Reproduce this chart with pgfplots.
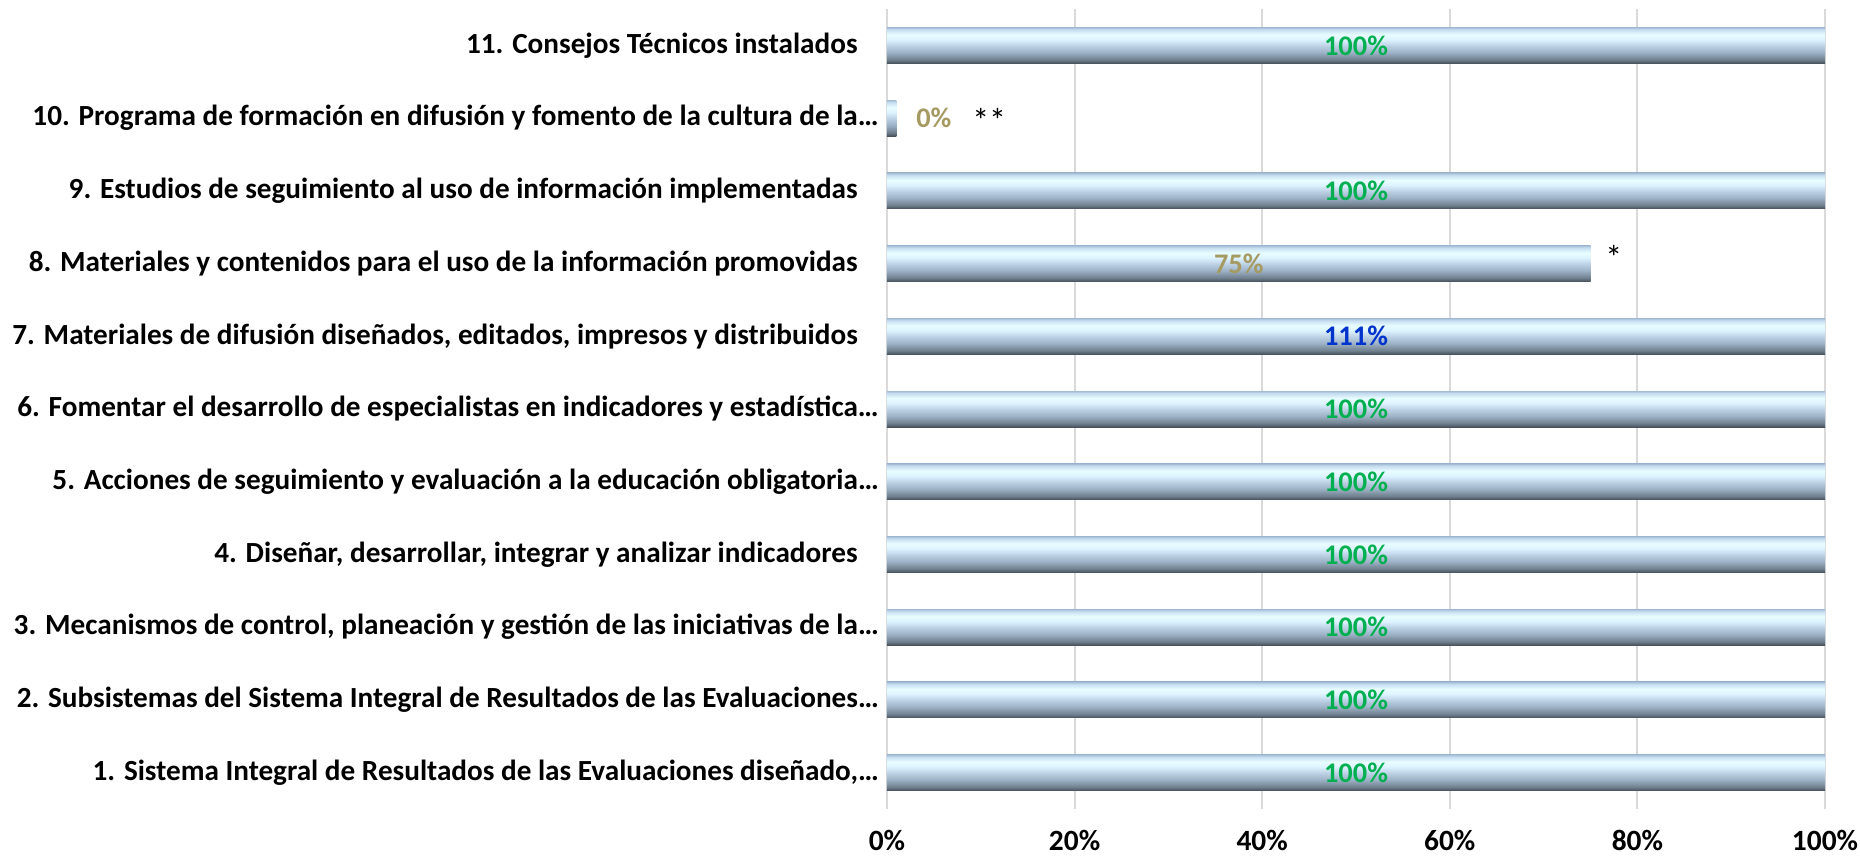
\documentclass[border=0pt]{standalone}
\usepackage{pgfplots}
\pgfplotsset{compat=1.18}
\usepackage{fontspec}
\setmainfont{Carlito}
\usetikzlibrary{calc}
\definecolor{gridgray}{HTML}{D9D9D9}
\definecolor{lblgreen}{HTML}{00B050}
\definecolor{lblblue}{HTML}{0033CC}
\definecolor{lblkhaki}{HTML}{A69A63}
\definecolor{sh1}{HTML}{46515B}
\definecolor{sh2}{HTML}{6F7F8D}
\definecolor{sh3}{HTML}{9CB1C5}
\definecolor{sh4}{HTML}{BFD3E6}
\definecolor{sh5}{HTML}{DDF3FF}
\definecolor{sh6}{HTML}{E8FDFF}
\definecolor{sh7}{HTML}{C6DDF0}
\definecolor{sh8}{HTML}{A3BCD5}
\pgfdeclareverticalshading{barshade}{100bp}{color(0bp)=(sh1); color(25bp)=(sh1); color(30bp)=(sh2); color(40bp)=(sh3); color(50bp)=(sh4); color(58bp)=(sh5); color(65bp)=(sh6); color(72bp)=(sh7); color(75bp)=(sh8); color(100bp)=(sh8)}
\pgfplotsset{barst/.style={xbar, bar width=18pt, bar shift=0pt, draw=none, shade, shading=barshade, forget plot}}
\newcommand{\pad}{\kern10.5pt}
\begin{document}
\begin{tikzpicture}
\begin{axis}[
  name=ax,
  width=469pt, height=400pt, scale only axis,
  xmin=0, xmax=100, ymin=0.5, ymax=11.5,
  xtick={0,20,40,60,80,100},
  xticklabels={0\%,20\%,40\%,60\%,80\%,100\%},
  ytick={1,2,3,4,5,6,7,8,9,10,11},
  yticklabels={
    {1. Sistema Integral de Resultados de las Evaluaciones diseñado,…},
    {2. Subsistemas del Sistema Integral de Resultados de las Evaluaciones…},
    {3. Mecanismos de control, planeación y gestión de las iniciativas de la…},
    {4. Diseñar, desarrollar, integrar y analizar indicadores\pad},
    {5. Acciones de seguimiento y evaluación a la educación obligatoria…},
    {6. Fomentar el desarrollo de especialistas en indicadores y estadística…},
    {7. Materiales de difusión diseñados, editados, impresos y distribuidos\pad},
    {8. Materiales y contenidos para el uso de la información promovidas\pad},
    {9. Estudios de seguimiento al uso de información implementadas\pad},
    {10. Programa de formación en difusión y fomento de la cultura de la…},
    {11. Consejos Técnicos instalados\pad}},
  xmajorgrids, grid style={draw=gridgray, line width=1pt},
  axis line style={draw=none},
  major tick length=0pt,
  y tick label style={font=\fontsize{14.6}{16}\selectfont\bfseries, anchor=east, inner sep=0pt, xshift=-4pt},
  x tick label style={font=\fontsize{14.7}{16}\selectfont\bfseries, anchor=north, inner sep=0pt, yshift=-10.5pt},
  /pgf/number format/assume math mode=true,
  xbar, bar width=18pt,
]
\addplot[barst] coordinates {(100,1)};
\addplot[barst] coordinates {(100,2)};
\addplot[barst] coordinates {(100,3)};
\addplot[barst] coordinates {(100,4)};
\addplot[barst] coordinates {(100,5)};
\addplot[barst] coordinates {(100,6)};
\addplot[barst] coordinates {(111,7)};
\addplot[barst] coordinates {(75,8)};
\addplot[barst] coordinates {(100,9)};
\addplot[barst] coordinates {(1,10)};
\addplot[barst] coordinates {(100,11)};
\tikzset{dl/.style={font=\fontsize{14.2}{16}\selectfont\bfseries, inner sep=0pt}}
\node[dl, text=lblgreen] at (axis cs:50,1) {100\%};
\node[dl, text=lblgreen] at (axis cs:50,2) {100\%};
\node[dl, text=lblgreen] at (axis cs:50,3) {100\%};
\node[dl, text=lblgreen] at (axis cs:50,4) {100\%};
\node[dl, text=lblgreen] at (axis cs:50,5) {100\%};
\node[dl, text=lblgreen] at (axis cs:50,6) {100\%};
\node[dl, text=lblblue] at (axis cs:50,7) {111\%};
\node[dl, text=lblkhaki] at (axis cs:37.5,8) {75\%};
\node[dl, text=lblgreen] at (axis cs:50,9) {100\%};
\node[dl, text=lblkhaki] at (axis cs:5,10) {0\%};
\node[dl, text=lblgreen] at (axis cs:50,11) {100\%};
\node[font=\fontsize{17}{18}\selectfont, inner sep=0pt, yshift=3pt] at (axis cs:77.5,8) {*};
\node[font=\fontsize{17}{18}\selectfont, inner sep=0pt, yshift=-1pt] at (axis cs:10.9,10) {**};
\end{axis}
\pgfresetboundingbox
\path ($(ax.south west)+(-443.5pt,-24pt)$) rectangle ($(ax.north east)+(17.5pt,4.5pt)$);
\end{tikzpicture}
\end{document}
